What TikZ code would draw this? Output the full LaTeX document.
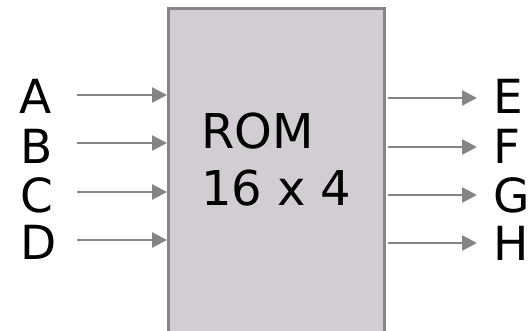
\documentclass[tikz,border=0pt]{standalone}
\usepackage{fontspec}
\setmainfont{DejaVu Sans}
\usetikzlibrary{arrows.meta}
\definecolor{linegray}{HTML}{858585}
\definecolor{romfill}{HTML}{D2CCD3}
\tikzset{
  arr/.style={draw=linegray, line width=2.6pt, -{Triangle[length=15pt,width=15pt]}},
  letter/.style={anchor=base west, inner sep=0pt, outer sep=0pt, font=\fontsize{47}{50}\selectfont},
  romtext/.style={anchor=base west, inner sep=0pt, outer sep=0pt, font=\fontsize{48}{57}\selectfont},
  rombox/.style={draw=linegray, fill=romfill, line width=2.5pt, inner sep=0pt, minimum width=216pt, minimum height=360pt}
}
\begin{document}
\begin{tikzpicture}[x=1pt,y=1pt]
\useasboundingbox (0,0) rectangle (530,330);
\clip (0,0) rectangle (530,330);
\node[rombox, anchor=north west] (rom) at (167,322.5) {};
\node[romtext] (t1) at (201,182) {ROM};
\node[romtext] (t2) at (201,125) {16 x 4};
% left labels
\node[letter] (A) at (19.5,217) {A};
\node[letter] (B) at (20,167) {B};
\node[letter] (C) at (20,118) {C};
\node[letter] (D) at (20,71) {D};
% right labels
\node[letter] (E) at (493,217) {E};
\node[letter] (F) at (493,167) {F};
\node[letter] (G) at (493,118) {G};
\node[letter] (H) at (493,70) {H};
% input arrows
\coordinate (ia) at (77,235);
\coordinate (ib) at (77,187);
\coordinate (ic) at (77,138);
\coordinate (id) at (77,90);
\draw[arr] (ia) -- (ia -| rom.west);
\draw[arr] (ib) -- (ib -| rom.west);
\draw[arr] (ic) -- (ic -| rom.west);
\draw[arr] (id) -- (id -| rom.west);
% output arrows
\coordinate (oe) at (477,232);
\coordinate (of) at (477,183);
\coordinate (og) at (477,135);
\coordinate (oh) at (477,87);
\draw[arr] ([xshift=2pt]oe -| rom.east) -- (oe);
\draw[arr] ([xshift=2pt]of -| rom.east) -- (of);
\draw[arr] ([xshift=2pt]og -| rom.east) -- (og);
\draw[arr] ([xshift=2pt]oh -| rom.east) -- (oh);
\end{tikzpicture}
\end{document}
